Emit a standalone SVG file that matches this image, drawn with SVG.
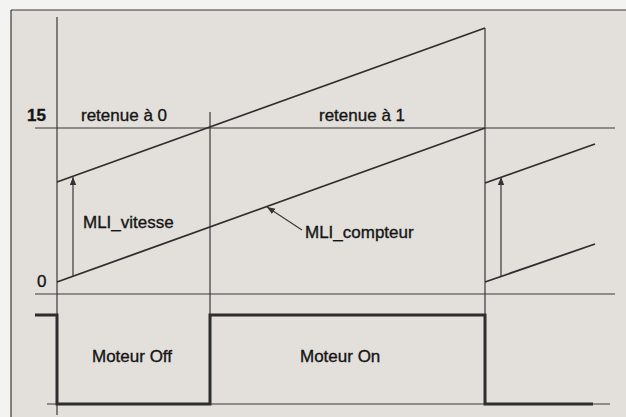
<svg xmlns="http://www.w3.org/2000/svg" width="626" height="417" viewBox="0 0 626 417">
<defs>
<style>
.thin{stroke:#3a3a3a;stroke-width:1.2;fill:none}
.ramp{stroke:#2e2e2e;stroke-width:1.8;fill:none}
.sq{stroke:#2e2e2e;stroke-width:3;fill:none;stroke-linejoin:miter}
.lbl{font-family:"Liberation Sans",Arial,sans-serif;font-size:17px;fill:#151515;stroke:#151515;stroke-width:0.35}
</style>
<marker id="ah" viewBox="0 0 10 10" refX="10" refY="5" markerWidth="8" markerHeight="8" orient="auto" markerUnits="userSpaceOnUse">
<path d="M0,1 L10,5 L0,9 Z" fill="#333"/>
</marker>
</defs>
<rect x="0" y="0" width="626" height="417" fill="#f3f3f1"/>
<rect x="11" y="10" width="615" height="407" fill="#e3dfdb"/>
<g id="frame">
<line x1="11" y1="10" x2="626" y2="10" class="thin"/>
<line x1="11" y1="10" x2="11" y2="417" class="thin"/>
</g>
<g id="axes">
<line x1="57" y1="17" x2="57" y2="415" class="thin"/>
<line x1="35" y1="128" x2="615" y2="128" class="thin"/>
<line x1="35" y1="294" x2="615" y2="294" class="thin"/>
<line x1="47" y1="404" x2="610" y2="404" class="thin"/>
<line x1="210" y1="112" x2="210" y2="404" class="thin"/>
<line x1="485" y1="28" x2="485" y2="404" class="thin"/>
</g>
<g id="ramps">
<polyline points="57,182 485,28" class="ramp"/>
<polyline points="57,282 485,128" class="ramp"/>
<polyline points="485,183 595,144" class="ramp"/>
<polyline points="485,282 595,244" class="ramp"/>
</g>
<g id="connectors">
<line x1="73" y1="276" x2="73" y2="177" class="thin" marker-end="url(#ah)"/>
<line x1="501" y1="276" x2="501" y2="177" class="thin" marker-end="url(#ah)"/>
<line x1="302" y1="230" x2="267" y2="207" class="thin" marker-end="url(#ah)"/>
</g>
<g id="signal">
<polyline points="35,315 57,315 57,404 210,404 210,315 485,315 485,404 593,404" class="sq"/>
</g>
<g id="labels">
<text x="27" y="121" class="lbl" font-weight="bold">15</text>
<text x="81" y="121" class="lbl">retenue à 0</text>
<text x="319" y="121" class="lbl">retenue à 1</text>
<text x="37" y="287" class="lbl">0</text>
<text x="83" y="228" class="lbl">MLI_vitesse</text>
<text x="305" y="238" class="lbl">MLI_compteur</text>
<text x="92" y="362" class="lbl">Moteur Off</text>
<text x="300" y="362" class="lbl">Moteur On</text>
</g>
</svg>
